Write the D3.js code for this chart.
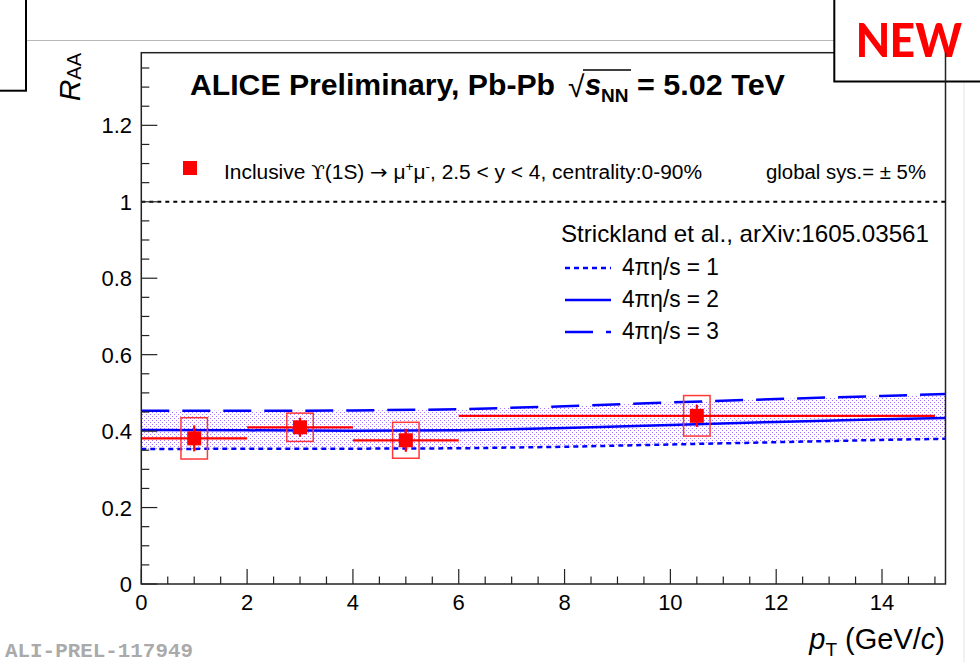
<!DOCTYPE html>
<html><head><meta charset="utf-8">
<script src="https://cdn.jsdelivr.net/npm/d3@7"></script>
<style>
body{margin:0;background:#fff;}
svg{display:block;font-family:"Liberation Sans",Arial,sans-serif;}
</style></head>
<body>
<svg id="c" width="980" height="662"></svg>
<script>
// ---- data ----
const binCenters = [1, 3, 5, 10.5];
const binLow = [0, 2, 4, 6];
const binHigh = [2, 4, 6, 15];
const raa = [0.381, 0.410, 0.376, 0.440];
const statErr = [0.034, 0.025, 0.030, 0.029];
const sysErr = [0.054, 0.037, 0.047, 0.053];
const sysHalfWidth = 0.25;

const modelPt = [0, 2, 4, 6, 8, 10, 12, 14, 15.2];
const model1 = [0.353, 0.354, 0.354, 0.355, 0.359, 0.365, 0.371, 0.377, 0.380]; // 4πη/s = 1
const model2 = [0.403, 0.402, 0.401, 0.402, 0.408, 0.416, 0.424, 0.431, 0.434]; // 4πη/s = 2
const model3 = [0.453, 0.453, 0.454, 0.457, 0.465, 0.475, 0.484, 0.492, 0.497]; // 4πη/s = 3

const xTicks = [0, 2, 4, 6, 8, 10, 12, 14];
const yTicks = [0, 0.2, 0.4, 0.6, 0.8, 1, 1.2];
const xDomain = [0, 15.2];
const yDomain = [0, 1.39];

// ---- layout ----
const svg = d3.select("#c");
const L = 141.3, R = 945.5, T = 52.7, B = 584;
const x = d3.scaleLinear().domain(xDomain).range([L, R]);
const y = d3.scaleLinear().domain(yDomain).range([B, T]);

const defs = svg.append("defs");
const pat = defs.append("pattern").attr("id","dots").attr("patternUnits","userSpaceOnUse")
  .attr("width",4).attr("height",4);
pat.append("rect").attr("width",4).attr("height",4).attr("fill","#fff");
pat.append("rect").attr("x",0).attr("y",0).attr("width",1).attr("height",1).attr("fill","#a870ff");
pat.append("rect").attr("x",2).attr("y",2).attr("width",1).attr("height",1).attr("fill","#a870ff");

// slide decorations
svg.append("line").attr("x1",26).attr("x2",835).attr("y1",40.5).attr("y2",40.5).attr("stroke","#b8b8b8").attr("stroke-width",1);
svg.append("line").attr("x1",964).attr("x2",964).attr("y1",82).attr("y2",662).attr("stroke","#e4e4e4").attr("stroke-width",1);

// band
const band = d3.area().x((d,i)=>x(modelPt[i])).y0((d,i)=>y(model1[i])).y1((d,i)=>y(model3[i]));
svg.append("path").datum(modelPt).attr("d",band).attr("fill","url(#dots)");

// reference line at 1
svg.append("line").attr("x1",x(0)).attr("x2",x(xDomain[1])).attr("y1",y(1)).attr("y2",y(1))
  .attr("stroke","#000").attr("stroke-width",2).attr("stroke-dasharray","4,4");

// model lines
const line = arr => d3.line().x((d,i)=>x(modelPt[i])).y((d,i)=>y(arr[i]));
const styles = [
  {arr:model1, dash:"5,4"},
  {arr:model2, dash:null},
  {arr:model3, dash:"28,13"}
];
styles.forEach(s=>{
  svg.append("path").datum(modelPt).attr("d",line(s.arr)).attr("fill","none")
    .attr("stroke","#0000ff").attr("stroke-width",2.5).attr("stroke-dasharray",s.dash);
});

// data: sys boxes, bars, markers
const g = svg.append("g");
binCenters.forEach((c,i)=>{
  g.append("rect").attr("x",x(c-sysHalfWidth)).attr("width",x(c+sysHalfWidth)-x(c-sysHalfWidth))
    .attr("y",y(raa[i]+sysErr[i])).attr("height",y(raa[i]-sysErr[i])-y(raa[i]+sysErr[i]))
    .attr("fill","none").attr("stroke","#ff3838").attr("stroke-width",1.5);
  g.append("line").attr("x1",x(binLow[i])).attr("x2",x(binHigh[i])).attr("y1",y(raa[i])).attr("y2",y(raa[i]))
    .attr("stroke","#ff0000").attr("stroke-width",2.2);
  g.append("line").attr("x1",x(c)).attr("x2",x(c)).attr("y1",y(raa[i]+statErr[i])).attr("y2",y(raa[i]-statErr[i]))
    .attr("stroke","#ff0000").attr("stroke-width",2.2);
  g.append("rect").attr("x",x(c)-7).attr("y",y(raa[i])-7).attr("width",14).attr("height",14).attr("fill","#ff0000");
});

// axes
const ax = svg.append("g").attr("stroke","#222").attr("fill","none");
ax.append("rect").attr("x",L).attr("y",T).attr("width",R-L).attr("height",B-T).attr("stroke-width",1.5);
for (let v=0; v<=15.0001; v+=0.5){
  const major = Math.abs(v/2-Math.round(v/2))<1e-6;
  ax.append("line").attr("x1",x(v)).attr("x2",x(v)).attr("y1",B).attr("y2",B-(major?15:7.5)).attr("stroke-width",1.2);
}
for (let v=0; v<=1.3901; v+=0.05){
  const major = Math.abs(v/0.2-Math.round(v/0.2))<1e-6;
  ax.append("line").attr("x1",L).attr("x2",L+(major?16:8)).attr("y1",y(v)).attr("y2",y(v)).attr("stroke-width",1.2);
}
svg.append("g").selectAll("text").data(xTicks).join("text")
  .attr("x",d=>x(d)).attr("y",610).attr("text-anchor","middle").attr("font-size",22).text(d=>d);
svg.append("g").selectAll("text").data(yTicks).join("text")
  .attr("x",132).attr("y",d=>y(d)+8).attr("text-anchor","end").attr("font-size",22).text(d=>d);

// axis titles
const yl = svg.append("text").attr("transform","translate(80,53) rotate(-90)").attr("text-anchor","end").attr("font-size",30);
yl.append("tspan").attr("font-style","italic").text("R");
yl.append("tspan").attr("font-size",20).attr("dy",1).text("AA");

const xl = svg.append("text").attr("x",945).attr("y",649).attr("text-anchor","end").attr("font-size",29);
xl.append("tspan").attr("font-style","italic").text("p");
xl.append("tspan").attr("font-size",19).attr("dy",7).text("T");
xl.append("tspan").attr("dy",-7).text(" (GeV/");
xl.append("tspan").attr("font-style","italic").text("c");
xl.append("tspan").text(")");

// title
const tg = svg.append("g").attr("font-weight","bold");
tg.append("text").attr("x",190).attr("y",95).attr("font-size",29).attr("textLength",365).attr("lengthAdjust","spacingAndGlyphs").text("ALICE Preliminary, Pb-Pb");
tg.append("text").attr("x",568).attr("y",97).attr("font-size",30).attr("font-weight","normal").text("√");
tg.append("text").attr("x",585).attr("y",95).attr("font-size",29).attr("font-style","italic").text("s");
tg.append("text").attr("x",601).attr("y",102).attr("font-size",19).text("NN");
tg.append("text").attr("x",637).attr("y",95).attr("font-size",29).attr("textLength",148).attr("lengthAdjust","spacingAndGlyphs").text("= 5.02 TeV");
svg.append("line").attr("x1",583).attr("x2",631).attr("y1",70).attr("y2",70).attr("stroke","#000").attr("stroke-width",1.3);

// legend data
svg.append("rect").attr("x",183).attr("y",161).attr("width",14).attr("height",14).attr("fill","#ff0000");
const lt = svg.append("text").attr("x",224).attr("y",179).attr("font-size",20).attr("textLength",478).attr("lengthAdjust","spacingAndGlyphs");
lt.append("tspan").text("Inclusive ");
lt.append("tspan").attr("font-family","'DejaVu Serif',serif").attr("font-size",19).text("ϒ");
lt.append("tspan").text("(1S) ");
lt.append("tspan").attr("font-family","'DejaVu Sans',sans-serif").attr("font-size",20).text("→");
lt.append("tspan").text(" μ");
lt.append("tspan").attr("font-size",13).attr("dy",-8).text("+");
lt.append("tspan").attr("font-size",20).attr("dy",8).text("μ");
lt.append("tspan").attr("font-size",13).attr("dy",-8).text("-");
lt.append("tspan").attr("font-size",20).attr("dy",8).text(", 2.5 < y < 4, centrality:0-90%");
svg.append("text").attr("x",766).attr("y",179).attr("font-size",20).attr("textLength",160).attr("lengthAdjust","spacingAndGlyphs").text("global sys.= ± 5%");

// model legend
svg.append("text").attr("x",561).attr("y",242).attr("font-size",24).attr("textLength",368).attr("lengthAdjust","spacingAndGlyphs").text("Strickland et al., arXiv:1605.03561");
const legLabels = ["4πη/s = 1","4πη/s = 2","4πη/s = 3"];
const legY = [268, 300, 332];
styles.forEach((s,i)=>{
  svg.append("line").attr("x1",565).attr("x2",611).attr("y1",legY[i]).attr("y2",legY[i])
    .attr("stroke","#0000ff").attr("stroke-width",2.5).attr("stroke-dasharray",s.dash);
  svg.append("text").attr("x",622).attr("y",legY[i]+7).attr("font-size",23).attr("textLength",97).attr("lengthAdjust","spacingAndGlyphs").text(legLabels[i]);
});

// slide boxes
svg.append("rect").attr("x",-10).attr("y",-10).attr("width",36).attr("height",100.7).attr("fill","#fff").attr("stroke","#000").attr("stroke-width",2);
svg.append("rect").attr("x",834.3).attr("y",-10).attr("width",160).attr("height",91.5).attr("fill","#fff").attr("stroke","#000").attr("stroke-width",2);
svg.append("text").attr("x",856).attr("y",57).attr("font-size",52).attr("font-weight","bold").attr("fill","#ff0000")
  .attr("font-family","Carlito,'Liberation Sans',Arial,sans-serif").attr("textLength",106).attr("lengthAdjust","spacingAndGlyphs").text("NEW");
svg.append("line").attr("x1",945.5).attr("x2",945.5).attr("y1",82).attr("y2",T).attr("stroke","#222").attr("stroke-width",1.5);

svg.append("text").attr("x",5).attr("y",657).attr("font-size",20).attr("font-weight","bold").attr("fill","#aaaaaa")
  .attr("textLength",188).attr("lengthAdjust","spacingAndGlyphs")
  .attr("font-family","'Liberation Mono','DejaVu Sans Mono',monospace").text("ALI-PREL-117949");
</script>
</body></html>
